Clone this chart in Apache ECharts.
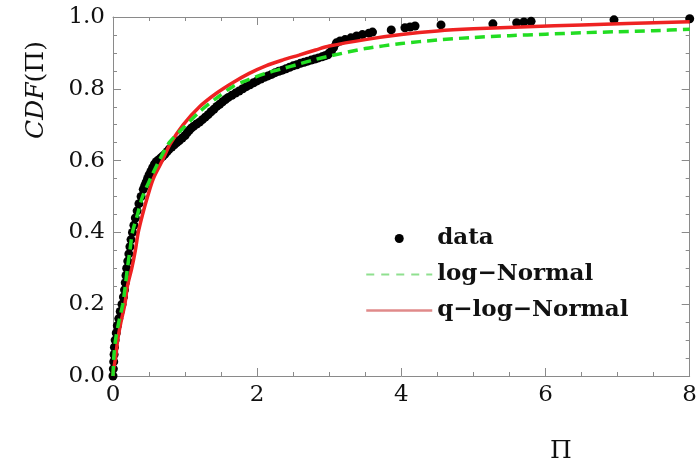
<!DOCTYPE html>
<html>
<head>
<meta charset="utf-8">
<script src="https://cdn.jsdelivr.net/npm/echarts@6/dist/echarts.min.js"></script>
<style>
  html, body { margin: 0; padding: 0; background: #fff; }
  #main { width: 700px; height: 467px; }
</style>
</head>
<body>
<div id="main"></div>
<script>
var dataX = [0.0, 0.005, 0.01, 0.015, 0.02, 0.03, 0.045, 0.06, 0.08, 0.1, 0.125, 0.145, 0.16, 0.17, 0.18,
  0.19, 0.205, 0.22, 0.235, 0.25, 0.27, 0.29, 0.31, 0.335, 0.36, 0.39, 0.42, 0.44, 0.46, 0.48, 0.5, 0.525, 0.55, 0.575,
  0.6, 0.63, 0.66, 0.69, 0.72, 0.75, 0.78, 0.815, 0.85, 0.885, 0.92, 0.96, 1.0, 1.03, 1.06, 1.09, 1.12, 1.16, 1.2, 1.24,
  1.28, 1.32, 1.36, 1.4, 1.44, 1.48, 1.52, 1.56, 1.6, 1.65,
  1.7, 1.75, 1.8, 1.85, 1.9, 1.95, 2.0, 2.05, 2.1, 2.15, 2.2, 2.25, 2.3, 2.35, 2.4, 2.45, 2.5, 2.55, 2.6, 2.65,
  2.7, 2.75, 2.8, 2.85, 2.9, 2.94, 2.98, 3.0, 3.03,
  3.06, 3.1, 3.15, 3.22, 3.3, 3.38, 3.46, 3.55, 3.6, 3.86, 4.05, 4.12, 4.19, 4.55, 5.27,
  5.6, 5.7, 5.8, 6.95, 8.0];
var dataY = [0.0, 0.02, 0.04, 0.06, 0.08, 0.1, 0.12, 0.14, 0.16, 0.18, 0.2, 0.22, 0.24, 0.26, 0.28,
  0.3, 0.32, 0.34, 0.36, 0.38, 0.4, 0.42, 0.44, 0.46, 0.48, 0.5, 0.52, 0.53, 0.54, 0.55, 0.56, 0.57, 0.58, 0.59,
  0.597, 0.602, 0.607, 0.612, 0.618, 0.625, 0.632, 0.638, 0.644, 0.65, 0.656, 0.663, 0.67, 0.678, 0.685, 0.691, 0.696, 0.702, 0.707, 0.714,
  0.721, 0.728, 0.736, 0.743, 0.751, 0.757, 0.764, 0.77, 0.776, 0.782,
  0.788, 0.794, 0.8, 0.806, 0.811, 0.817, 0.822, 0.827, 0.832, 0.836, 0.84, 0.845, 0.849, 0.852, 0.856, 0.86, 0.864, 0.867, 0.871, 0.874,
  0.877, 0.88, 0.883, 0.886, 0.889, 0.892, 0.895, 0.9, 0.905,
  0.915, 0.928, 0.933, 0.937, 0.942, 0.947, 0.951, 0.955, 0.958, 0.964, 0.97, 0.972, 0.975, 0.978, 0.981,
  0.984, 0.986, 0.988, 0.992, 0.995];

// log-Normal fit
var logNormX = [0, 0.01, 0.035, 0.08, 0.135, 0.17, 0.2, 0.235, 0.27, 0.34, 0.41, 0.52, 0.64, 0.78,
  0.97, 1.2, 1.43, 1.66, 1.89, 2.12, 2.35, 2.58, 2.81, 3.0, 3.5, 4.0, 4.5, 5.0, 5.5, 6.0, 6.5, 7.0, 7.5, 8.0];
var logNormY = [0, 0.05, 0.1, 0.15, 0.2, 0.25, 0.3, 0.35, 0.4, 0.45, 0.5, 0.55, 0.6, 0.65,
  0.69, 0.736, 0.773, 0.806, 0.826, 0.843, 0.856, 0.869, 0.882, 0.891, 0.912, 0.926, 0.936, 0.943, 0.948, 0.952, 0.956, 0.959, 0.962, 0.966];

// q-log-Normal fit
var qLogX = [0, 0.01, 0.035, 0.065, 0.11, 0.165, 0.2, 0.26, 0.31, 0.35, 0.41, 0.48, 0.56, 0.685, 0.79,
  0.97, 1.2, 1.43, 1.66, 1.89, 2.12, 2.35, 2.58, 2.81, 3.0, 3.5, 4.0, 4.5, 5.0, 5.75, 6.5, 7.13, 8.0];
var qLogY = [0, 0.02, 0.05, 0.1, 0.15, 0.2, 0.25, 0.3, 0.35, 0.4, 0.45, 0.5, 0.55, 0.6, 0.645,
  0.699, 0.75, 0.787, 0.817, 0.843, 0.864, 0.88, 0.894, 0.908, 0.919, 0.937, 0.951, 0.961, 0.967, 0.973, 0.978, 0.982, 0.987];

var xTicks = [0, 2, 4, 6, 8];
var yTicks = [0, 0.2, 0.4, 0.6, 0.8, 1.0];

function pairs(xs, ys) {
  return xs.map(function (x, i) { return [x, ys[i]]; });
}

var FONT = 'DejaVu Serif';
var frame = '#8a8a8a';

function frameAxis(extra) {
  var base = {
    axisLine: { show: true, onZero: false, lineStyle: { color: frame, width: 1 } },
    axisTick: { show: true, inside: true, length: 8, lineStyle: { color: frame } },
    minorTick: { show: true, splitNumber: 4, length: 4, lineStyle: { color: frame } },
    splitLine: { show: false },
    axisLabel: { show: false }
  };
  for (var k in extra) base[k] = extra[k];
  return base;
}

var myChart = echarts.init(document.getElementById('main'));

var option = {
  animation: false,
  grid: { left: 113, right: 6, top: 17, bottom: 91 },
  xAxis: [
    frameAxis({
      type: 'value', min: xTicks[0], max: xTicks[xTicks.length - 1], interval: 2, position: 'bottom',
      axisLabel: { show: true, color: '#111', fontFamily: FONT, fontSize: 23, margin: 8 }
    }),
    frameAxis({ type: 'value', min: 0, max: 8, interval: 2, position: 'top' })
  ],
  yAxis: [
    frameAxis({
      type: 'value', min: yTicks[0], max: yTicks[yTicks.length - 1], interval: 0.2, position: 'left',
      axisLabel: {
        show: true, color: '#111', fontFamily: FONT, fontSize: 23, margin: 8,
        formatter: function (v) { return v.toFixed(1); }
      }
    }),
    frameAxis({ type: 'value', min: 0, max: 1, interval: 0.2, position: 'right' })
  ],
  legend: {
    orient: 'vertical',
    left: 360,
    top: 222,
    itemWidth: 66,
    itemHeight: 9,
    itemGap: 13,
    textStyle: { fontFamily: FONT, fontWeight: 'bold', fontSize: 23, color: '#111', lineHeight: 18 },
    data: [
      { name: 'data', icon: 'circle', itemStyle: { color: '#000', opacity: 1 } },
      {
        name: 'log−Normal',
        itemStyle: { color: 'rgba(0,0,0,0)', borderWidth: 0 },
        lineStyle: { color: '#8fe08f', width: 2, type: [8, 7] }
      },
      {
        name: 'q−log−Normal',
        itemStyle: { color: 'rgba(0,0,0,0)', borderWidth: 0 },
        lineStyle: { color: '#e08a8a', width: 2.5 }
      }
    ]
  },
  graphic: [
    {
      type: 'text', x: 36, y: 90, rotation: Math.PI / 2,
      style: {
        text: '{i|CDF}{n|(Π)}',
        align: 'center', verticalAlign: 'middle', fill: '#111',
        rich: {
          i: { fontFamily: FONT, fontStyle: 'italic', fontSize: 25 },
          n: { fontFamily: FONT, fontSize: 25 }
        }
      }
    },
    {
      type: 'text', x: 561, y: 451,
      style: { text: 'Π', fontFamily: FONT, fontSize: 25, fill: '#111', align: 'center', verticalAlign: 'middle' }
    }
  ],
  series: [
    {
      name: 'data', type: 'scatter', data: pairs(dataX, dataY),
      symbolSize: 9, itemStyle: { color: '#000', opacity: 1 }, z: 2
    },
    {
      name: 'log−Normal', type: 'line', data: pairs(logNormX, logNormY),
      symbol: 'none', smooth: 0.3, z: 4,
      itemStyle: { color: '#22dd22' },
      lineStyle: { color: '#22dd22', width: 3.5, type: [10, 6] }
    },
    {
      name: 'q−log−Normal', type: 'line', data: pairs(qLogX, qLogY),
      symbol: 'none', smooth: 0.3, z: 3,
      itemStyle: { color: '#ee2222' },
      lineStyle: { color: '#ee2222', width: 3.5 }
    }
  ]
};

myChart.setOption(option);
</script>
</body>
</html>
